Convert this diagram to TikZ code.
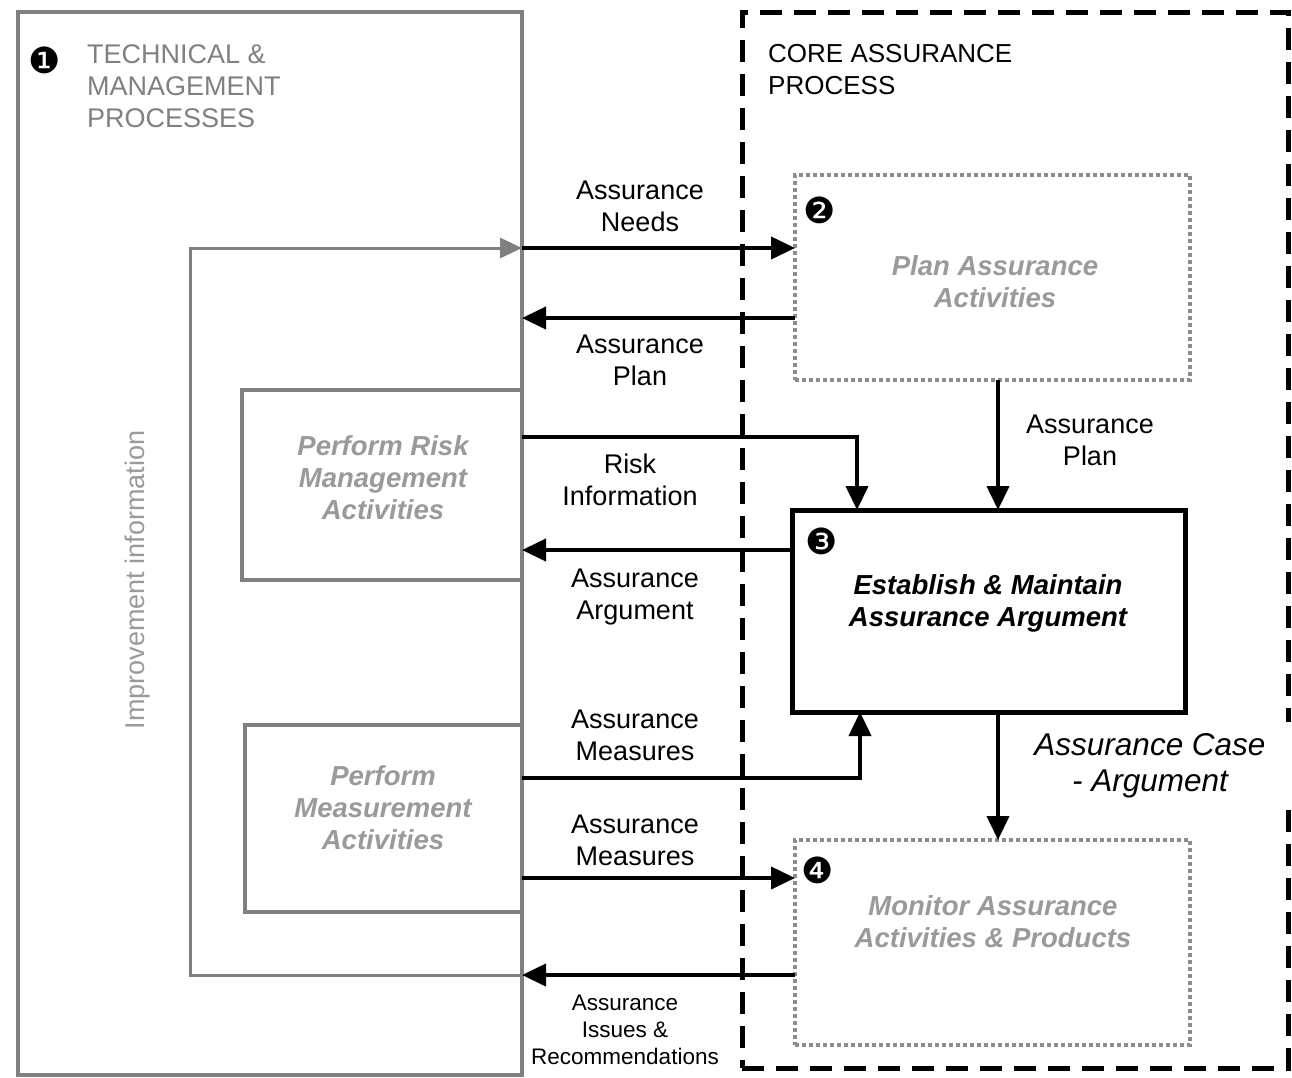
\documentclass[tikz,border=0pt]{standalone}
\usepackage{fontspec}
\setmainfont{Liberation Sans}
\newfontfamily\dejavu{DejaVu Sans}
\usetikzlibrary{arrows.meta}
\definecolor{boxgray}{HTML}{808080}
\definecolor{txtgray}{HTML}{9A9A9A}
\definecolor{dotgray}{HTML}{8C8C8C}
\begin{document}
\begin{tikzpicture}[x=1pt,y=-1pt,
  lbl/.style={align=center,font=\fontsize{27}{32}\selectfont,inner sep=0pt},
  boxtxt/.style={align=center,font=\fontsize{27.5}{32}\selectfont\bfseries\itshape,text=txtgray,inner sep=0pt},
  num/.style={font=\dejavu\fontsize{36}{36}\selectfont,inner sep=0pt},
  graybox/.style={draw=boxgray,line width=4pt,inner sep=0pt,outer sep=0pt},
  dotbox/.style={draw=dotgray,line width=4pt,dash pattern=on 4pt off 3pt,inner sep=0pt,outer sep=0pt},
  arr/.style={line width=4pt,-{Triangle[length=24pt,width=22pt]}},
]
\useasboundingbox (0,0) rectangle (1292,1077);
\fill[white] (0,0) rectangle (1292,1077);

% main containers
\node[graybox,minimum width=504pt,minimum height=1063pt] (tech) at (270,543.5) {};
\node[draw=black,line width=5pt,dash pattern=on 22pt off 12pt,inner sep=0pt,outer sep=0pt,minimum width=546pt,minimum height=1056pt] (core) at (1015,540) {};

% inner boxes
\node[graybox,minimum width=280pt,minimum height=190pt] (risk) at (382,485) {};
\node[graybox,minimum width=277pt,minimum height=187pt] (meas) at (383.5,818.5) {};
\node[dotbox,minimum width=395pt,minimum height=205pt] (plan) at (992.5,277.5) {};
\node[draw=black,line width=5pt,inner sep=0pt,outer sep=0pt,minimum width=393pt,minimum height=202pt] (estab) at (988.5,611) {};
\node[dotbox,minimum width=395pt,minimum height=205pt] (mon) at (992.5,942.5) {};

% box texts
\node[boxtxt] (riskT) at (383,478) {Perform Risk\\Management\\Activities};
\node[boxtxt] (measT) at (383,808) {Perform\\Measurement\\Activities};
\node[boxtxt] (planT) at (995,282) {Plan Assurance\\Activities};
\node[boxtxt,text=black] (estabT) at (988,603) {Establish \& Maintain\\Assurance Argument};
\node[boxtxt] (monT) at (993,922) {Monitor Assurance\\Activities \& Products};

% numbers
\node[num] (n1) at (45,60) {❶};
\node[num] (n2) at (820,210) {❷};
\node[num] (n3) at (822,541) {❸};
\node[num] (n4) at (818,870) {❹};

% titles
\node[anchor=north west,align=left,font=\fontsize{27}{32}\selectfont,text=boxgray,inner sep=0pt] (techT) at (87,44) {TECHNICAL \&\\MANAGEMENT\\PROCESSES};
\node[anchor=north west,align=left,font=\fontsize{26}{32}\selectfont,inner sep=0pt] (coreT) at (768,44) {CORE ASSURANCE\\PROCESS};

% helper coordinates
\coordinate (yNeeds) at (0,248);
\coordinate (yPlan) at (0,318);
\coordinate (yRisk) at (0,437);
\coordinate (yArg) at (0,550);
\coordinate (yMeas1) at (0,778);
\coordinate (yMeas2) at (0,878);
\coordinate (yIss) at (0,975);
\coordinate (xRisk) at (857,0);
\coordinate (xMeas) at (860,0);
\coordinate (xMid) at (998,0);
\coordinate (xLoop) at (190,0);

% improvement loop
\draw[draw=boxgray,line width=3pt,-{Triangle[length=22pt,width=20pt]}]
  (tech.east |- yIss) -- (xLoop |- yIss) -- (xLoop |- yNeeds) -- (tech.east |- yNeeds);
\node[rotate=90,font=\fontsize{27}{32}\selectfont,text=txtgray,inner sep=0pt] (impT) at (138,580) {Improvement information};

% connectors
\draw[arr] (tech.east |- yNeeds) -- (plan.west |- yNeeds);
\draw[arr] (plan.west |- yPlan) -- (tech.east |- yPlan);
\draw[arr] (plan.south -| xMid) -- (estab.north -| xMid);
\draw[arr] (risk.east |- yRisk) -- (xRisk |- yRisk) -- (estab.north -| xRisk);
\draw[arr] (estab.west |- yArg) -- (tech.east |- yArg);
\draw[arr] (meas.east |- yMeas1) -- (xMeas |- yMeas1) -- (estab.south -| xMeas);
\draw[arr] (meas.east |- yMeas2) -- (mon.west |- yMeas2);
\draw[arr] (mon.west |- yIss) -- (tech.east |- yIss);

% connector labels
\node[lbl] (lNeeds) at (640,206) {Assurance\\Needs};
\node[lbl] (lPlan1) at (640,360) {Assurance\\Plan};
\node[lbl] (lPlan2) at (1090,440) {Assurance\\Plan};
\node[lbl] (lRisk) at (630,480) {Risk\\Information};
\node[lbl] (lArg) at (635,597) {Assurance\\Argument};
\node[lbl] (lMeas1) at (635,735) {Assurance\\Measures};
\node[lbl] (lMeas2) at (635,840) {Assurance\\Measures};
\node[lbl,font=\fontsize{22.5}{27}\selectfont] (lIss) at (625,1030) {Assurance\\Issues \&\\Recommendations};
\node[align=center,font=\fontsize{31.5}{36}\selectfont\itshape,fill=white,inner xsep=44pt,inner ysep=12pt] (lCase) at (1150,766) {Assurance Case\\- Argument};
\draw[arr] (estab.south -| xMid) -- (mon.north -| xMid);
\end{tikzpicture}
\end{document}
